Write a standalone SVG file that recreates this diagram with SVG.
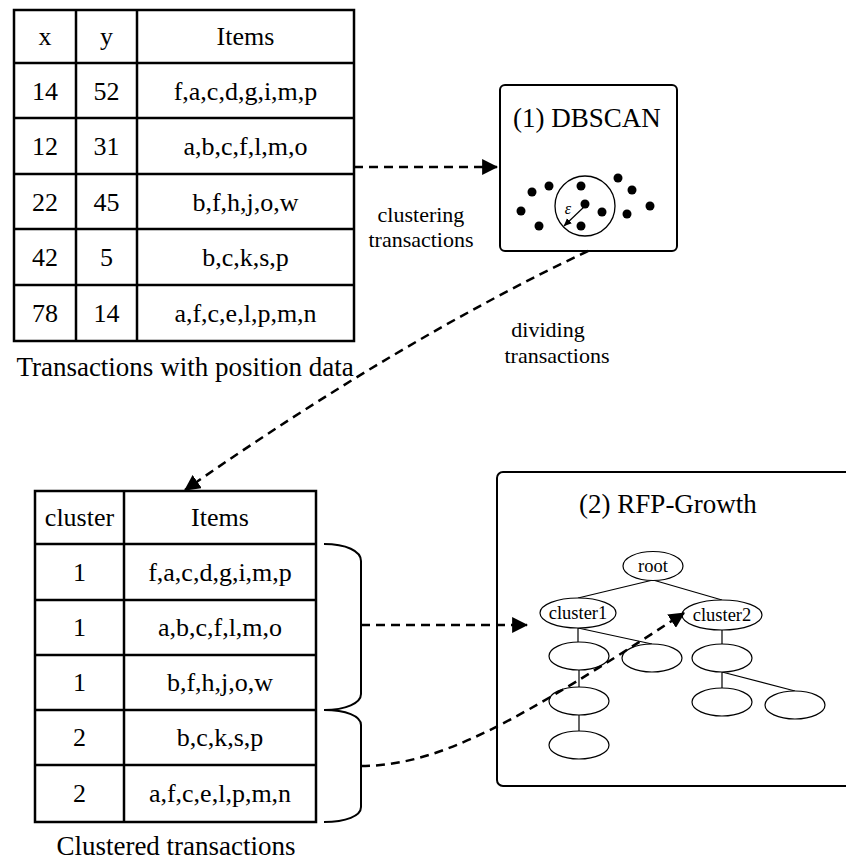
<svg xmlns="http://www.w3.org/2000/svg" width="846" height="861" viewBox="0 0 846 861" font-family="Liberation Serif, Times New Roman, serif">
  <style>
    text { fill: #000; text-anchor: middle; }
    .cell { font-size: 26px; }
    .cap { font-size: 27px; }
    .lbl { font-size: 22px; }
    .tree { font-size: 18.5px; }
    .grid { fill: none; stroke: #000; stroke-width: 2.5; }
    .box { fill: #fff; stroke: #000; stroke-width: 2; }
    .ell { fill: #fff; stroke: #000; stroke-width: 1.2; }
    .edge { stroke: #000; stroke-width: 1.2; fill: none; }
    .dash { fill: none; stroke: #000; stroke-width: 2.5; stroke-dasharray: 9 6; }
    .brace { fill: none; stroke: #000; stroke-width: 2; }
    .dot { fill: #000; }
  </style>
  <defs>
    <marker id="head" markerUnits="userSpaceOnUse" markerWidth="16" markerHeight="16" viewBox="0 0 14 14" refX="13" refY="7" orient="auto">
      <path d="M0,0 L14,7 L0,14 Z" fill="#000" stroke="none"/>
    </marker>
    <marker id="small" markerUnits="userSpaceOnUse" markerWidth="8" markerHeight="8" viewBox="0 0 8 8" refX="7.5" refY="4" orient="auto">
      <path d="M0,0.5 L8,4 L0,7.5 Z" fill="#000" stroke="none"/>
    </marker>
  </defs>

  <!-- transactions table with coordinates -->
  <g id="table-positions">
    <rect class="grid" x="14" y="10" width="340" height="331"/>
    <path class="grid" d="M76,10 V341 M137,10 V341 M14,63 H354 M14,118 H354 M14,174 H354 M14,229 H354 M14,285 H354"/>
    <text class="cell" x="45" y="45">x</text>
    <text class="cell" x="106.5" y="45">y</text>
    <text class="cell" x="245.5" y="45">Items</text>
    <text class="cell" x="45" y="100">14</text>
    <text class="cell" x="106.5" y="100">52</text>
    <text class="cell" x="245.5" y="100">f,a,c,d,g,i,m,p</text>
    <text class="cell" x="45" y="155">12</text>
    <text class="cell" x="106.5" y="155">31</text>
    <text class="cell" x="245.5" y="155">a,b,c,f,l,m,o</text>
    <text class="cell" x="45" y="211">22</text>
    <text class="cell" x="106.5" y="211">45</text>
    <text class="cell" x="245.5" y="211">b,f,h,j,o,w</text>
    <text class="cell" x="45" y="266">42</text>
    <text class="cell" x="106.5" y="266">5</text>
    <text class="cell" x="245.5" y="266">b,c,k,s,p</text>
    <text class="cell" x="45" y="322">78</text>
    <text class="cell" x="106.5" y="322">14</text>
    <text class="cell" x="245.5" y="322">a,f,c,e,l,p,m,n</text>
    <text class="cap" x="185" y="376">Transactions with position data</text>
  </g>

  <!-- DBSCAN step -->
  <g id="dbscan">
    <rect class="box" x="500" y="85" width="177" height="166" rx="5"/>
    <text class="cap" x="587" y="127">(1) DBSCAN</text>
    <circle cx="585" cy="206" r="30" fill="none" stroke="#000" stroke-width="1.3"/>
    <line x1="586" y1="205" x2="564" y2="226" stroke="#000" stroke-width="1.2" marker-end="url(#small)"/>
    <text x="568" y="214" font-size="16" font-style="italic">ε</text>
    <g class="dot">
      <circle cx="532" cy="192" r="4.5"/>
      <circle cx="549" cy="186" r="4.5"/>
      <circle cx="521" cy="211" r="4.5"/>
      <circle cx="539" cy="226" r="4.5"/>
      <circle cx="581" cy="186" r="4.5"/>
      <circle cx="585" cy="204" r="4.5"/>
      <circle cx="602" cy="212" r="4.5"/>
      <circle cx="581" cy="226" r="4.5"/>
      <circle cx="618" cy="178" r="4.5"/>
      <circle cx="632" cy="190" r="4.5"/>
      <circle cx="627" cy="214" r="4.5"/>
      <circle cx="650" cy="206" r="4.5"/>
    </g>
  </g>

  <!-- clustered transactions table -->
  <g id="table-clusters">
    <rect class="grid" x="35" y="491" width="281" height="331"/>
    <path class="grid" d="M124,491 V822 M35,544 H316 M35,600 H316 M35,655 H316 M35,710 H316 M35,765 H316"/>
    <text class="cell" x="79.5" y="526">cluster</text>
    <text class="cell" x="220" y="526">Items</text>
    <text class="cell" x="79.5" y="581">1</text>
    <text class="cell" x="220" y="581">f,a,c,d,g,i,m,p</text>
    <text class="cell" x="79.5" y="636">1</text>
    <text class="cell" x="220" y="636">a,b,c,f,l,m,o</text>
    <text class="cell" x="79.5" y="691">1</text>
    <text class="cell" x="220" y="691">b,f,h,j,o,w</text>
    <text class="cell" x="79.5" y="746">2</text>
    <text class="cell" x="220" y="746">b,c,k,s,p</text>
    <text class="cell" x="79.5" y="802">2</text>
    <text class="cell" x="220" y="802">a,f,c,e,l,p,m,n</text>
    <text class="cap" x="176" y="855">Clustered transactions</text>
  </g>

  <!-- braces grouping cluster rows -->
  <g id="braces">
    <path class="brace" d="M324,544 C346,544 361,551 361,561 V694 C361,703 346,710 324,710"/>
    <path class="brace" d="M324,710 C346,710 361,716 361,725 V807 C361,816 346,822 324,822"/>
  </g>

  <!-- RFP-Growth step -->
  <g id="rfp-growth">
    <rect class="box" x="497" y="472" width="360" height="314" rx="6"/>
    <text class="cap" x="668" y="513">(2) RFP-Growth</text>
    <g id="tree-edges">
      <path class="edge" d="M653,580 L578,598 M653,580 L722,600 M578,628 V642 M578,628 L652,644 M579,670 V687 M579,715 V731 M722,630 V644 M722,672 V688 M722,672 L795,691"/>
    </g>
    <g id="tree-nodes">
      <ellipse class="ell" cx="653" cy="566" rx="30" ry="14.5"/>
      <text class="tree" x="653" y="572">root</text>
      <ellipse class="ell" cx="578" cy="613" rx="38" ry="15"/>
      <text class="tree" x="578" y="619">cluster1</text>
      <ellipse class="ell" cx="722" cy="615" rx="40" ry="15"/>
      <text class="tree" x="722" y="621">cluster2</text>
      <ellipse class="ell" cx="579" cy="656" rx="30" ry="14"/>
      <ellipse class="ell" cx="652" cy="658" rx="30" ry="14"/>
      <ellipse class="ell" cx="579" cy="701" rx="30" ry="14"/>
      <ellipse class="ell" cx="579" cy="745" rx="30" ry="14"/>
      <ellipse class="ell" cx="722" cy="658" rx="30" ry="14"/>
      <ellipse class="ell" cx="722" cy="702" rx="30" ry="14"/>
      <ellipse class="ell" cx="795" cy="705" rx="30" ry="14"/>
    </g>
  </g>

  <!-- connectors -->
  <g id="connectors">
    <line class="dash" x1="354" y1="167" x2="497" y2="167" marker-end="url(#head)"/>
    <text class="lbl" x="421" y="222">clustering</text>
    <text class="lbl" x="421" y="247">transactions</text>
    <path class="dash" d="M588,251 Q400,340 185,490" marker-end="url(#head)"/>
    <text class="lbl" x="548" y="337">dividing</text>
    <text class="lbl" x="557" y="363">transactions</text>
    <line class="dash" x1="361" y1="625" x2="527" y2="625" marker-end="url(#head)"/>
    <path class="dash" d="M361,766 C440,766 520,720 684,613" marker-end="url(#head)"/>
  </g>
</svg>
